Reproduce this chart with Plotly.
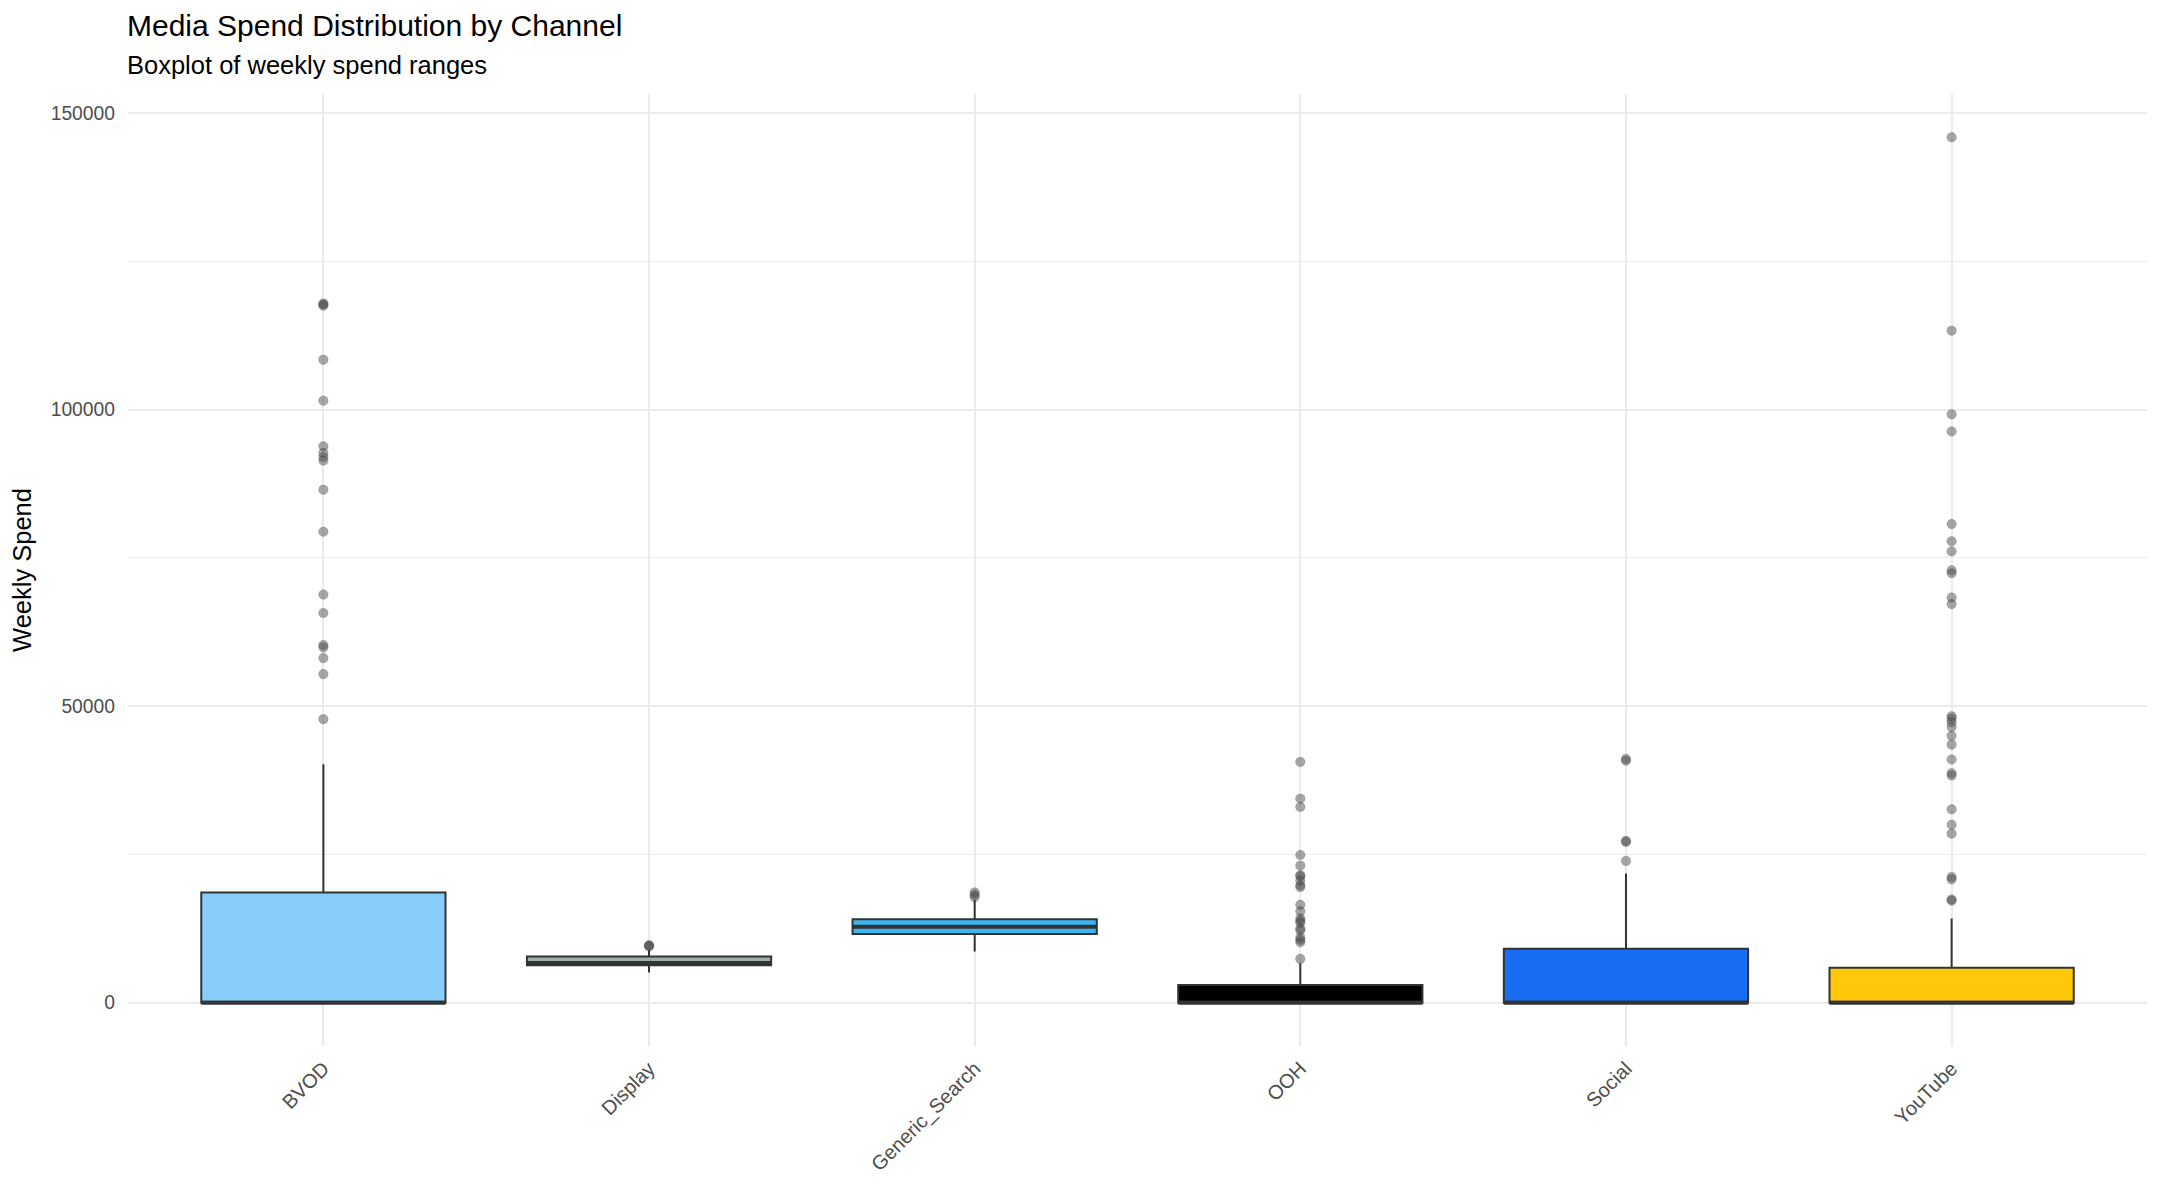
import plotly.graph_objects as go

# channels and box statistics (weekly spend)
channels = ["BVOD", "Display", "Generic_Search", "OOH", "Social", "YouTube"]
fill_colors = ["#87CEFA", "#A0ABA9", "#3CB6EF", "#000000", "#186EF2", "#FFC90A"]

q1 = [0, 6300, 11600, 0, 0, 0]
median = [0, 6700, 12800, 0, 0, 0]
q3 = [18600, 7800, 14050, 3000, 9100, 5900]
lower_whisker = [0, 5100, 8650, 0, 0, 0]
upper_whisker = [40200, 8900, 17300, 6700, 21800, 14200]

outliers_bvod = [117900, 117700, 117500, 108400, 101500, 93800, 92700, 92000, 91400,
                 86500, 79400, 68800, 65700, 60300, 59900, 58100, 55400, 47800]
outliers_display = [9700, 9600, 9500]
outliers_search = [18600, 18200, 17800]
outliers_ooh = [40600, 34400, 33000, 24900, 23100, 21500, 21300, 20600, 19800, 19500,
                16500, 15400, 14200, 13800, 13500, 12500, 12200, 11000, 10600, 10200, 7400]
outliers_social = [41100, 40800, 27300, 27100, 23900]
outliers_youtube = [145900, 113300, 99200, 96300, 80700, 77800, 76100, 72900, 72400,
                    68300, 67200, 48300, 47900, 47300, 46500, 45000, 43500, 41000,
                    38700, 38300, 32600, 30000, 28500, 21200, 20800, 17400, 17200]
outliers = [outliers_bvod, outliers_display, outliers_search,
            outliers_ooh, outliers_social, outliers_youtube]

y_ticks = [0, 50000, 100000, 150000]

FONT = "Liberation Sans, Arial, sans-serif"
BOX_W = 0.75

fig = go.Figure()

for i, ch in enumerate(channels):
    fig.add_trace(go.Box(
        x=[ch], q1=[q1[i]], median=[median[i]], q3=[q3[i]],
        lowerfence=[lower_whisker[i]], upperfence=[upper_whisker[i]],
        width=BOX_W, whiskerwidth=0,
        fillcolor=fill_colors[i],
        line=dict(color="#333333", width=2),
        boxpoints=False, hoverinfo="skip", showlegend=False,
    ))
    # thicker median line like ggplot
    fig.add_shape(type="line", xref="x", yref="y",
                  x0=i - BOX_W / 2, x1=i + BOX_W / 2,
                  y0=median[i], y1=median[i],
                  line=dict(color="#333333", width=4))

for i, ch in enumerate(channels):
    fig.add_trace(go.Scatter(
        x=[ch] * len(outliers[i]), y=outliers[i], mode="markers",
        marker=dict(color="rgba(72,72,72,0.48)", size=9.5,
                    line=dict(width=0.6, color="rgba(60,60,60,0.35)")),
        showlegend=False, hoverinfo="y",
    ))

ymin, ymax = -7300, 153200

fig.update_layout(
    width=2145, height=1177,
    margin=dict(l=120, r=6, t=86, b=139),
    plot_bgcolor="white", paper_bgcolor="white",
    font=dict(family=FONT, color="#000000"),
    boxmode="overlay",
    annotations=[
        dict(text="Media Spend Distribution by Channel", xref="paper", yref="paper",
             x=0, y=1, xanchor="left", yanchor="bottom", yshift=50, xshift=-3,
             showarrow=False, font=dict(size=30, color="#000000", family=FONT)),
        dict(text="Boxplot of weekly spend ranges", xref="paper", yref="paper",
             x=0, y=1, xanchor="left", yanchor="bottom", yshift=13, xshift=-3,
             showarrow=False, font=dict(size=25.5, color="#000000", family=FONT)),
    ],
)

fig.update_xaxes(
    type="category", categoryorder="array", categoryarray=channels,
    range=[-0.6, len(channels) - 0.4],
    showgrid=True, gridcolor="#EBEBEB", gridwidth=1.6,
    showline=False, zeroline=False, ticks="", ticklabelstandoff=6,
    tickangle=-45, tickfont=dict(size=20, color="#4D4D4D", family=FONT),
)

fig.update_yaxes(
    range=[ymin, ymax], tickvals=y_ticks, tickformat="d",
    showgrid=True, gridcolor="#EBEBEB", gridwidth=1.6,
    minor=dict(dtick=25000, tick0=0, showgrid=True, gridcolor="#EBEBEB", gridwidth=0.9),
    showline=False, zeroline=False, ticks="", ticklabelstandoff=12,
    tickfont=dict(size=19.3, color="#4D4D4D", family=FONT),
    title=dict(text="Weekly Spend", standoff=12, font=dict(size=25.5, color="#000000", family=FONT)),
)

fig.write_html("out.html")
